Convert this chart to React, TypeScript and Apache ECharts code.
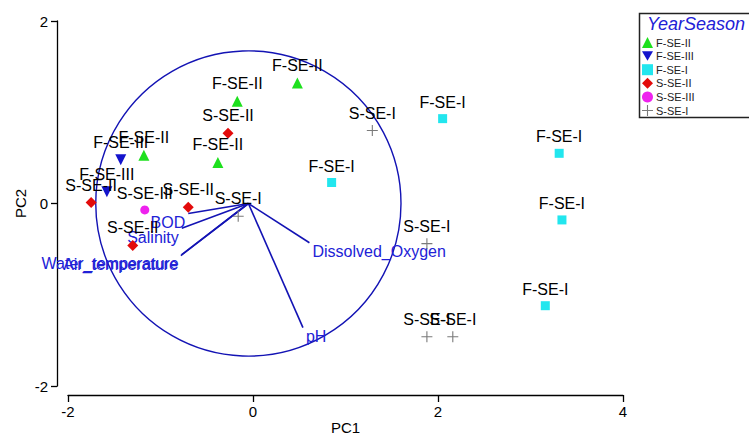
import React, { useEffect, useRef } from 'react';
import * as echarts from 'echarts';

// ---- data ----
const groupNames = ['F-SE-II', 'F-SE-III', 'F-SE-I', 'S-SE-II', 'S-SE-III', 'S-SE-I'];

const fse2X = [0.48, -0.17, -0.38, -1.18];
const fse2Y = [1.32, 1.12, 0.45, 0.53];

const fse3X = [-1.43, -1.58];
const fse3Y = [0.48, 0.13];

const fse1X = [2.05, 0.85, 3.31, 3.34, 3.16];
const fse1Y = [0.93, 0.23, 0.55, -0.18, -1.12];

const sse2X = [-0.27, -1.75, -0.70, -1.30];
const sse2Y = [0.77, 0.01, -0.04, -0.46];

const sse3X = [-1.17];
const sse3Y = [-0.07];

const sse1X = [1.29, -0.16, 1.88, 1.88, 2.16];
const sse1Y = [0.80, -0.14, -0.44, -1.46, -1.46];

const loadingNames = ['BOD', 'Salinity', 'Water_temperature', 'Air_temperature', 'Dissolved_Oxygen', 'pH'];
const loadingX = [-0.70, -0.77, -0.77, -0.78, 0.61, 0.54];
const loadingY = [-0.11, -0.27, -0.56, -0.57, -0.43, -1.36];

const biplotOrigin = [-0.05, 0];
const circleRadius = 1.65;

const xMin = -2, xMax = 4, xStep = 2;
const yMin = -2, yMax = 2, yStep = 2;

const FONT = 'Liberation Sans, Arial, sans-serif';

const groupColors = ['#1ee01e', '#1414cc', '#22e6ee', '#e30b0b', '#ee22ee', '#7a7a7a'];
const groupSymbols = [
  'triangle',
  'path://M0,0L12,0L6,10.4Z',
  'rect',
  'diamond',
  'circle',
  'path://M4.5,0H5.5V4.5H10V5.5H5.5V10H4.5V5.5H0V4.5H4.5Z',
];
const groupSizes = [11, 11, 9, 11, 9, 11];

const groupXs = [fse2X, fse3X, fse1X, sse2X, sse3X, sse1X];
const groupYs = [fse2Y, fse3Y, fse1Y, sse2Y, sse3Y, sse1Y];

export default function App() {
  const ref = useRef<HTMLDivElement>(null);

  useEffect(() => {
    if (!ref.current) return;
    const chart = echarts.init(ref.current, null, { renderer: 'svg' });

    const scatterSeries = groupNames.map((name, gi) => ({
      name,
      type: 'scatter',
      data: groupXs[gi].map((x, i) => [x, groupYs[gi][i]]),
      symbol: groupSymbols[gi],
      symbolSize: groupSizes[gi],
      itemStyle: { color: groupColors[gi], opacity: 1 },
      z: 5,
      label: {
        show: true,
        position: 'top',
        distance: 4,
        formatter: name,
        color: '#000',
        fontSize: 16,
        lineHeight: 16,
        fontFamily: FONT,
      },
      emphasis: { disabled: true },
    }));

    const option: any = {
      animation: false,
      backgroundColor: '#fff',
      textStyle: { fontFamily: FONT },
      grid: { left: 68, right: 126, top: 21, bottom: 50, containLabel: false, outerBoundsMode: 'none' },
      xAxis: {
        type: 'value',
        min: xMin,
        max: xMax,
        interval: xStep,
        offset: 9,
        splitLine: { show: false },
        axisLine: { show: true, onZero: false, lineStyle: { color: '#000', width: 1.3 } },
        axisTick: { show: true, length: 7, lineStyle: { color: '#000', width: 1.3 } },
        axisLabel: { color: '#000', fontSize: 15, margin: 9, fontFamily: FONT, showMinLabel: true, showMaxLabel: true },
        name: 'PC1',
        nameLocation: 'middle',
        nameGap: 25,
        nameMoveOverlap: false,
        nameTextStyle: { color: '#000', fontSize: 15, fontFamily: FONT },
      },
      yAxis: {
        type: 'value',
        min: yMin,
        max: yMax,
        interval: yStep,
        offset: 11,
        splitLine: { show: false },
        axisLine: { show: true, onZero: false, lineStyle: { color: '#000', width: 1.3 } },
        axisTick: { show: true, length: 6, lineStyle: { color: '#000', width: 1.3 } },
        axisLabel: { color: '#000', fontSize: 15, margin: 9, fontFamily: FONT, showMinLabel: true, showMaxLabel: true },
        name: 'PC2',
        nameLocation: 'middle',
        nameGap: 29,
        nameRotate: 90,
        nameMoveOverlap: false,
        nameTextStyle: { color: '#000', fontSize: 15, fontFamily: FONT },
      },
      legend: {
        data: groupNames,
        orient: 'vertical',
        left: 642,
        top: 37,
        padding: 0,
        itemGap: 2.6,
        itemWidth: 11,
        itemHeight: 11,
        selectedMode: false,
        textStyle: { fontSize: 11, color: '#222', fontFamily: FONT, padding: [0, 0, 0, -2] },
      },
      graphic: [
        {
          type: 'rect',
          shape: { x: 639.5, y: 13.5, width: 130, height: 104 },
          style: { fill: 'none', stroke: '#222', lineWidth: 1.5 },
          z: 0,
          silent: true,
        },
        {
          type: 'text',
          x: 647,
          y: 24,
          style: {
            text: 'YearSeason',
            font: 'italic 18px ' + FONT,
            fill: '#2121d6',
            verticalAlign: 'middle',
          },
          silent: true,
        },
      ],
      series: [
        {
          type: 'custom',
          name: 'circle',
          coordinateSystem: 'cartesian2d',
          silent: true,
          z: 2,
          data: [[biplotOrigin[0], biplotOrigin[1], circleRadius]],
          renderItem: (params: any, api: any) => {
            const c = api.coord([api.value(0), api.value(1)]);
            const r = api.size([api.value(2), 0])[0];
            return {
              type: 'circle',
              shape: { cx: c[0], cy: c[1], r },
              style: { fill: 'none', stroke: '#1313b4', lineWidth: 1.4 },
            };
          },
        },
        {
          type: 'custom',
          name: 'loadings',
          coordinateSystem: 'cartesian2d',
          silent: true,
          z: 3,
          data: loadingNames.map((n, i) => [loadingX[i], loadingY[i]]),
          renderItem: (params: any, api: any) => {
            const o = api.coord(biplotOrigin);
            const t = api.coord([api.value(0), api.value(1)]);
            const name = loadingNames[params.dataIndex];
            const leftSide = t[0] < o[0];
            return {
              type: 'group',
              children: [
                {
                  type: 'line',
                  shape: { x1: o[0], y1: o[1], x2: t[0], y2: t[1] },
                  style: { stroke: '#1313b4', lineWidth: 1.6 },
                },
                {
                  type: 'text',
                  x: t[0] + (leftSide ? -3 : 3),
                  y: t[1] + 1,
                  style: {
                    text: name,
                    fill: '#2121d6',
                    font: '16px ' + FONT,
                    align: leftSide ? 'right' : 'left',
                    verticalAlign: 'top',
                  },
                },
              ],
            };
          },
        },
        ...scatterSeries,
      ],
    };

    chart.setOption(option);
    return () => chart.dispose();
  }, []);

  return (
    <div
      ref={ref}
      style={{ position: 'absolute', left: 0, top: 0, width: 749, height: 436 }}
    />
  );
}
